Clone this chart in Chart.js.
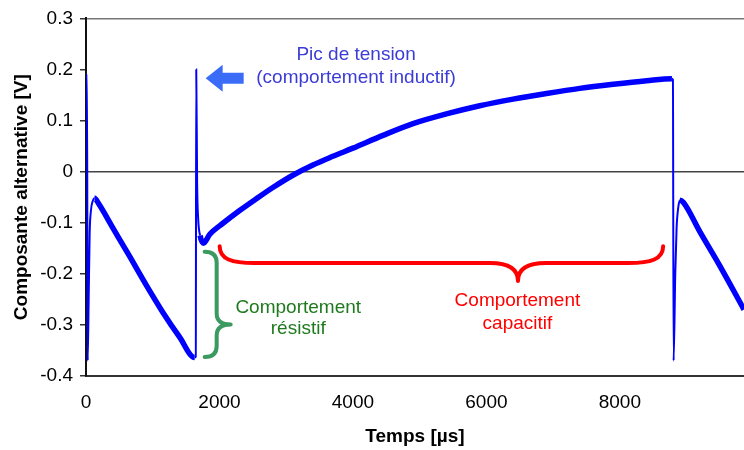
<!DOCTYPE html>
<html>
<head>
<meta charset="utf-8">
<script src="https://cdn.jsdelivr.net/npm/chart.js@4"></script>
<style>
  html, body { margin: 0; padding: 0; background: #fff; }
  #wrap { width: 744px; height: 450px; }
</style>
</head>
<body>
<div id="wrap"><canvas id="chart" width="744" height="450"></canvas></div>
<script>
// Composante alternative de la tension vs temps
const times = [
  0, 15, 25, 40, 55, 75, 100, 128, 200, 402, 650, 903, 1150, 1403, 1628, 1645,
  1652, 1665, 1680, 1710, 1760, 1852, 2052, 2302, 2552, 2800, 3100, 3400, 3700,
  4000, 4450, 4900, 5400, 5900, 6400, 6900, 7400, 7900, 8400, 8780, 8795,
  8805, 8830, 8850, 8875, 8900, 8950, 9200, 9500, 9860
];
const volts = [
  0.185, 0.19, -0.37, -0.25, -0.12, -0.075, -0.058, -0.052, -0.065, -0.110, -0.165, -0.222, -0.275, -0.324, -0.364, -0.362,
  0.20, -0.02, -0.09, -0.125, -0.140, -0.123, -0.101, -0.076, -0.053, -0.031, -0.007, 0.013, 0.030,
  0.046, 0.071, 0.094, 0.113, 0.129, 0.142, 0.153, 0.163, 0.171, 0.178, 0.182, 0.180,
  -0.37, -0.20, -0.11, -0.07, -0.056, -0.060, -0.118, -0.185, -0.270
];
const xTickValues = [0, 2000, 4000, 6000, 8000];
const yMin = -0.4, yMax = 0.3, yStep = 0.1;
const xMax = 9860;

const FONT = "'Liberation Sans', Arial, Helvetica, sans-serif";
Chart.defaults.font.family = FONT;
Chart.defaults.color = '#000';

// ── annotations (braces, arrow, labels) positioned in data units ──
const annot = {
  picText:   { t: 4047, lines: [[0.229, 'Pic de tension'], [0.183, '(comportement inductif)']], color: '#3B3BD6' },
  arrow:     { t: 1793, v: 0.183, color: '#3B6CF8' },
  resBrace:  { tEnd: 1778, tSpine: 1958, tTip: 2168, vTop: -0.157, vMid: -0.299, vBot: -0.363, color: '#3A9A5F' },
  resText:   { t: 3180, lines: [[-0.266, 'Comportement'], [-0.307, 'résistif']], color: '#1F7A1F' },
  capBrace:  { tLeft: 2003, tMid: 6473, tRight: 8648, vEnd: -0.146, vLine: -0.179, vTip: -0.214, color: '#FF0000' },
  capText:   { t: 6465, lines: [[-0.253, 'Comportement'], [-0.297, 'capacitif']], color: '#FF0000' },
};

const annotPlugin = {
  id: 'annot',
  afterDatasetsDraw(chart) {
    const { ctx, scales: { x, y } } = chart;
    const px = t => x.getPixelForValue(t);
    const py = v => y.getPixelForValue(v);
    ctx.save();

    // texts
    ctx.font = '19px ' + FONT;
    ctx.textAlign = 'center';
    ctx.textBaseline = 'middle';
    [annot.picText, annot.resText, annot.capText].forEach(a => {
      ctx.fillStyle = a.color;
      a.lines.forEach(([v, s]) => ctx.fillText(s, px(a.t), py(v)));
    });

    // arrow pointing left to the spike
    const ax = px(annot.arrow.t), ay = py(annot.arrow.v);
    ctx.fillStyle = annot.arrow.color;
    ctx.beginPath();
    ctx.moveTo(ax, ay);
    ctx.lineTo(ax + 17, ay - 13.5);
    ctx.lineTo(ax + 17, ay - 5.5);
    ctx.lineTo(ax + 38, ay - 5.5);
    ctx.lineTo(ax + 38, ay + 5.5);
    ctx.lineTo(ax + 17, ay + 5.5);
    ctx.lineTo(ax + 17, ay + 13.5);
    ctx.closePath();
    ctx.fill();

    ctx.lineWidth = 4;
    ctx.lineCap = 'round';
    ctx.lineJoin = 'round';

    // green brace (vertical)
    const g = annot.resBrace;
    const gx0 = px(g.tEnd), gx1 = px(g.tSpine), gx2 = px(g.tTip);
    const gyT = py(g.vTop), gyM = py(g.vMid), gyB = py(g.vBot);
    const r = 11;
    ctx.strokeStyle = g.color;
    ctx.beginPath();
    ctx.moveTo(gx0, gyT);
    ctx.quadraticCurveTo(gx1, gyT, gx1, gyT + r);
    ctx.lineTo(gx1, gyM - r);
    ctx.quadraticCurveTo(gx1, gyM, gx2, gyM);
    ctx.quadraticCurveTo(gx1, gyM, gx1, gyM + r);
    ctx.lineTo(gx1, gyB - r);
    ctx.quadraticCurveTo(gx1, gyB, gx0, gyB);
    ctx.stroke();

    // red brace (horizontal)
    const c = annot.capBrace;
    const cxL = px(c.tLeft), cxM = px(c.tMid), cxR = px(c.tRight);
    const cyE = py(c.vEnd), cyL = py(c.vLine), cyT = py(c.vTip);
    ctx.strokeStyle = c.color;
    ctx.beginPath();
    ctx.moveTo(cxL, cyE);
    ctx.bezierCurveTo(cxL, cyL - 4, cxL + 12, cyL, cxL + 35, cyL);
    ctx.lineTo(cxM - 28, cyL);
    ctx.quadraticCurveTo(cxM, cyL, cxM, cyT);
    ctx.quadraticCurveTo(cxM, cyL, cxM + 28, cyL);
    ctx.lineTo(cxR - 35, cyL);
    ctx.bezierCurveTo(cxR - 12, cyL, cxR, cyL - 4, cxR, cyE);
    ctx.stroke();

    ctx.restore();
  }
};

const points = times.map((t, i) => ({ x: t, y: volts[i] }));

new Chart(document.getElementById('chart'), {
  type: 'line',
  data: {
    datasets: [{
      data: points,
      borderColor: '#0000FF',
      borderWidth: 5,
      pointRadius: 0,
      cubicInterpolationMode: 'monotone',
      segment: {
        // the fast transitions are thin, the noisy slow parts look thick
        borderWidth: s => (s.p1.parsed.x - s.p0.parsed.x) <= 30 ? 2 : 5.5,
      },
    }]
  },
  options: {
    responsive: false,
    animation: false,
    layout: { padding: { top: 16, right: 0, left: 0, bottom: 0 } },
    plugins: { legend: { display: false }, tooltip: { enabled: false } },
    scales: {
      x: {
        type: 'linear',
        min: 0,
        max: xMax,
        afterBuildTicks: s => { s.ticks = xTickValues.map(v => ({ value: v })); },
        ticks: { font: { size: 19 }, padding: 15, maxRotation: 0, includeBounds: false, callback: v => String(v) },
        grid: { display: false, drawTicks: false },
        border: { display: true, color: '#333', width: 2 },
        title: { display: true, text: 'Temps [µs]', font: { size: 19, weight: 'bold' }, padding: { top: 4, bottom: 2 } },
        afterFit: s => { s.height = 74; },
      },
      y: {
        min: yMin,
        max: yMax,
        ticks: {
          stepSize: yStep,
          font: { size: 19 },
          padding: 7,
          callback: v => {
            const s = Number(v).toFixed(1);
            return (s === '0.0' || s === '-0.0') ? '0' : s;
          },
        },
        grid: {
          drawTicks: true,
          tickLength: 6,
          tickColor: '#333',
          color: c => {
            const v = c.tick ? c.tick.value : null;
            if (v === null) return 'rgba(0,0,0,0)';
            if (Math.abs(v) < 1e-9) return '#444';
            if (Math.abs(v - yMax) < 1e-9) return '#777';
            return 'rgba(0,0,0,0)';
          },
          lineWidth: 1.5,
        },
        border: { display: true, color: '#111', width: 2 },
        title: { display: true, text: 'Composante alternative [V]', font: { size: 19, weight: 'bold' }, padding: { top: 10, bottom: 0 } },
        afterFit: s => { s.width = 86; },
      }
    }
  },
  plugins: [annotPlugin]
});
</script>
</body>
</html>
